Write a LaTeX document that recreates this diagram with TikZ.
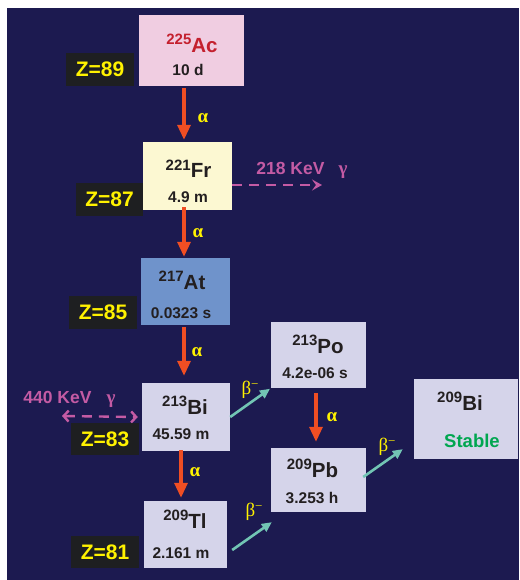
\documentclass[tikz,border=0pt]{standalone}
\usepackage{fontspec}
\setmainfont{Liberation Sans}
\newfontfamily\grk{Liberation Serif}
\usetikzlibrary{arrows.meta}
\definecolor{bgc}{HTML}{1C1A50}
\definecolor{acbox}{HTML}{F0CDE1}
\definecolor{acred}{HTML}{C4202E}
\definecolor{frbox}{HTML}{FCF8D2}
\definecolor{atbox}{HTML}{6F93CB}
\definecolor{grbox}{HTML}{D5D4EA}
\definecolor{zbg}{HTML}{1E1F21}
\definecolor{zyel}{HTML}{FFF200}
\definecolor{aorange}{HTML}{F04E23}
\definecolor{bteal}{HTML}{72C5B4}
\definecolor{gmag}{HTML}{C45BA4}
\definecolor{sgreen}{HTML}{00A650}
\definecolor{dtext}{HTML}{231F20}
\newcommand\isotope[2]{\raisebox{8pt}{\fontsize{15}{15}\selectfont #1}\fontsize{20.5}{20.5}\selectfont #2}
\begin{document}
\begin{tikzpicture}[x=1pt,y=-1pt,
  isobox/.style={inner sep=0pt,draw=none},
  zbox/.style={fill=zbg,inner sep=0pt,minimum width=68pt,minimum height=33pt,
    text=zyel,font=\bfseries\fontsize{21}{21}\selectfont},
  isot/.style={anchor=base,inner sep=0pt,text=dtext,font=\bfseries},
  half/.style={anchor=base,inner sep=0pt,text=dtext,font=\bfseries\fontsize{15.5}{15.5}\selectfont},
  aarr/.style={draw=aorange,line width=3.2pt,-{Triangle[length=15pt,width=13pt]}},
  barr/.style={draw=bteal,line width=2.6pt,-{Triangle[length=10pt,width=9pt]}},
  garr/.style={draw=gmag,line width=2.4pt,dash pattern=on 10pt off 7pt},
  alab/.style={inner sep=0pt,text=zyel,font=\grk\bfseries\fontsize{19}{19}\selectfont},
  blab/.style={inner sep=0pt,text=zyel,font=\grk\fontsize{19}{19}\selectfont},
  glab/.style={anchor=base,inner sep=0pt,text=gmag,font=\bfseries\fontsize{17.5}{17.5}\selectfont},
  ggam/.style={anchor=base,inner sep=0pt,text=gmag,font=\grk\bfseries\fontsize{19}{19}\selectfont},
]
\useasboundingbox (0,0) rectangle (519,580);
\fill[white] (0,0) rectangle (519,580);
\fill[bgc] (7,8) rectangle (519,580);

% isotope boxes
\node[isobox,fill=acbox,minimum width=105pt,minimum height=71pt] (ac) at (191.5,50.5) {};
\node[isobox,fill=frbox,minimum width=89pt,minimum height=68pt] (fr) at (187.5,176) {};
\node[isobox,fill=atbox,minimum width=89pt,minimum height=67pt] (at) at (185.5,291.5) {};
\node[isobox,fill=grbox,minimum width=88pt,minimum height=68pt] (bi) at (186,417) {};
\node[isobox,fill=grbox,minimum width=83pt,minimum height=67pt] (tl) at (185.5,534.5) {};
\node[isobox,fill=grbox,minimum width=95pt,minimum height=66pt] (po) at (318.5,355) {};
\node[isobox,fill=grbox,minimum width=95pt,minimum height=64pt] (pb) at (318.5,480) {};
\node[isobox,fill=grbox,minimum width=104pt,minimum height=80pt] (bis) at (466,419) {};

% texts
\node[isot,text=acred] (acn) at (192,53) {\isotope{225}{Ac}};
\node[half] (ach) at (188,76) {10 d};
\node[isot] (frn) at (188.5,178) {\isotope{221}{Fr}};
\node[half] (frh) at (188,202) {4.9 m};
\node[isot] (atn) at (182,289) {\isotope{217}{At}};
\node[half] (ath) at (181,318) {0.0323 s};
\node[isot] (bin) at (185,414) {\isotope{213}{Bi}};
\node[half] (bih) at (181,439) {45.59 m};
\node[isot] (tln) at (185,528) {\isotope{209}{Tl}};
\node[half] (tlh) at (181,558) {2.161 m};
\node[isot] (pon) at (318,353) {\isotope{213}{Po}};
\node[half] (poh) at (315,378) {4.2e-06 s};
\node[isot] (pbn) at (312.5,477) {\isotope{209}{Pb}};
\node[half] (pbh) at (312,503) {3.253 h};
\node[isot] (bisn) at (460,410) {\isotope{209}{Bi}};
\node[half,text=sgreen,font=\bfseries\fontsize{18.5}{18.5}\selectfont] (bish) at (472,447) {Stable};

% Z labels
\node[zbox] (z89) at (100,69.5) {Z=89};
\node[zbox,minimum width=67pt] (z87) at (109.5,199.5) {Z=87};
\node[zbox] (z85) at (103,312.5) {Z=85};
\node[zbox,minimum height=32pt] (z83) at (105,439) {Z=83};
\node[zbox,minimum height=32pt] (z81) at (105,552) {Z=81};

% alpha arrows
\coordinate (xa) at (184,0);
\coordinate (xb) at (181,0);
\coordinate (xc) at (316,0);
\draw[aarr,shorten <=2pt,shorten >=2pt] (ac.south -| xa) -- (fr.north -| xa);
\draw[aarr,shorten <=-3pt,shorten >=1pt] (fr.south -| xa) -- (at.north -| xa);
\draw[aarr,shorten <=2pt,shorten >=7pt] (at.south -| xa) -- (bi.north -| xa);
\draw[aarr,shorten <=-1pt,shorten >=3pt] (bi.south -| xb) -- (tl.north -| xb);
\draw[aarr,shorten <=5pt,shorten >=6pt] (po.south -| xc) -- (pb.north -| xc);
\node[alab] (a1) at (203,118) {α};
\node[alab] (a2) at (198,233) {α};
\node[alab] (a3) at (197,352) {α};
\node[alab] (a4) at (195,472) {α};
\node[alab] (a5) at (332,417) {α};

% beta arrows
\draw[barr,shorten >=1pt] (bi.east) -- (po.south west);
\draw[barr] ([shift={(5,15.5)}]tl.east) -- ([shift={(1,10)}]pb.south west);
\draw[barr] ([shift={(-3,-3)}]pb.east) -- ([shift={(-11,-10)}]bis.south west);
\node[blab] (b1) at (250,390) {β\raisebox{6pt}{\fontsize{13}{13}\selectfont −}};
\node[blab] (b2) at (254,512) {β\raisebox{6pt}{\fontsize{13}{13}\selectfont −}};
\node[blab] (b3) at (387,447) {β\raisebox{6pt}{\fontsize{13}{13}\selectfont −}};

% gamma
\coordinate (g1) at (322,185);
\draw[garr,-{Stealth[length=10pt,width=11pt,inset=4pt]}] ([shift={(0,9)}]fr.east) -- (g1);
\node[glab] (g1t) at (290.5,175) {218 KeV};
\node[ggam] (g1g) at (343,175) {γ};
\coordinate (g2) at (62,416);
\draw[garr,{Straight Barb[length=5pt,width=11pt]}-{Straight Barb[length=5pt,width=11pt]}] (g2) -- ([shift={(-4,0)}]bi.west);
\node[glab] (g2t) at (57.5,403) {440 KeV};
\node[ggam] (g2g) at (111,403) {γ};
\end{tikzpicture}
\end{document}
